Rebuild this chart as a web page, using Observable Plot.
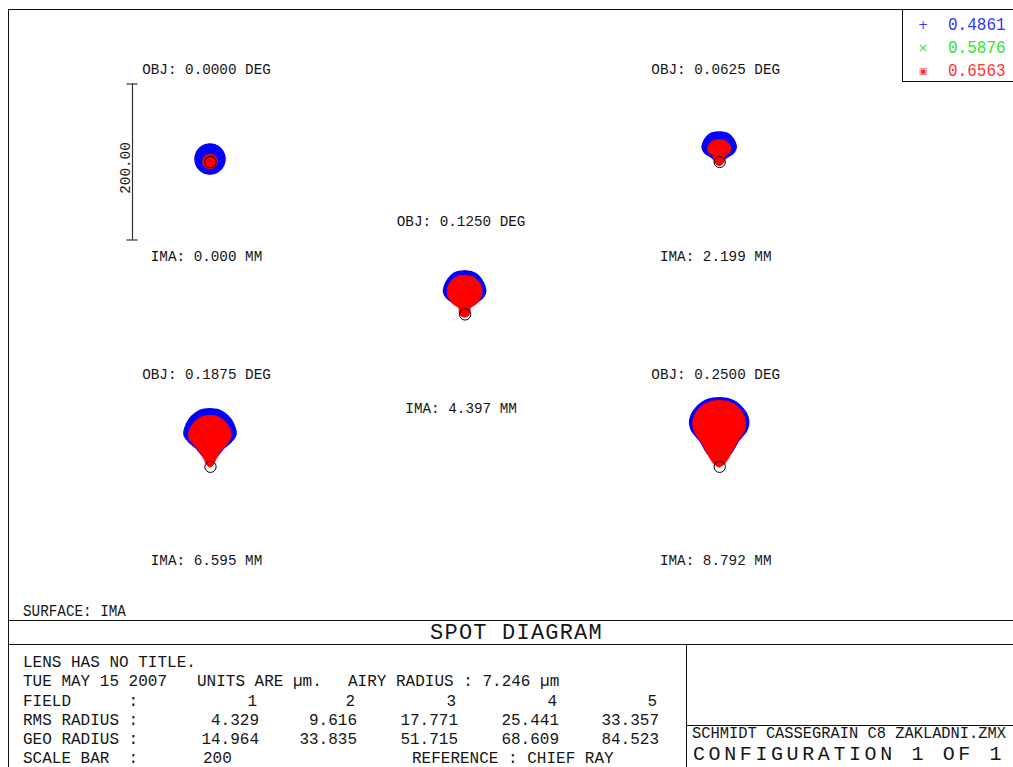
<!DOCTYPE html>
<html><head><meta charset="utf-8">
<script src="https://cdn.jsdelivr.net/npm/d3@7"></script>
<script src="https://cdn.jsdelivr.net/npm/@observablehq/plot@0.6"></script>
<style>
html,body{margin:0;padding:0;background:#fff;}
#page{position:relative;width:1013px;height:767px;overflow:hidden;font-family:"Liberation Mono","DejaVu Sans Mono",monospace;color:#161616;background:#fff;}
.t{position:absolute;white-space:pre;line-height:0.8;}
.ln{position:absolute;background:#111;}
</style></head><body><div id="page"></div>
<script>
// ---------------- data ----------------
const fieldNumbers = [1, 2, 3, 4, 5];
const objDeg = ["0.0000", "0.0625", "0.1250", "0.1875", "0.2500"];
const imaMM = ["0.000", "2.199", "4.397", "6.595", "8.792"];
const gridCol = [0, 2, 1, 0, 2];
const gridRow = [0, 0, 1, 2, 2];
const rmsRadius = ["4.329", "9.616", "17.771", "25.441", "33.357"];
const geoRadius = ["14.964", "33.835", "51.715", "68.609", "84.523"];
const wavelengths = ["0.4861", "0.5876", "0.6563"];
const airyRadius = 7.246;   // µm
const scaleBar = 200;       // µm
const lensTitle = "LENS HAS NO TITLE.";
const dateText = "TUE MAY 15 2007";
const lensFile = "SCHMIDT CASSEGRAIN C8 ZAKLADNI.ZMX";
const surfaceText = "SURFACE: IMA";

// spot envelopes:
// heights (µm above the chief ray) and half-widths (µm) of each spot outline
const blueProfileY = [
  [21.8, 21.0, 18.7, 14.8, 9.2, 3.2, -2.8, -8.4, -12.3, -14.6, -15.4],
  [37.2, 35.9, 32.1, 25.6, 17.9, 11.5, 6.4, 2.6, 1.3],
  [54.5, 53.2, 50.0, 43.6, 35.9, 28.2, 21.8, 15.4, 9.0, 6.4],
  [73.1, 71.8, 67.9, 61.5, 52.6, 41.0, 32.1, 23.1, 12.8, 9.0],
  [87.2, 85.9, 82.1, 75.6, 66.7, 56.4, 46.2, 33.3, 15.4, 10.3]
];
const blueProfileW = [
  [0, 5.4, 10.3, 14.5, 17.6, 18.6, 17.6, 14.5, 10.3, 5.4, 0],
  [0, 9.0, 14.7, 19.2, 21.2, 17.9, 10.3, 5.1, 0],
  [0, 9.0, 15.4, 21.2, 25.0, 26.3, 23.1, 15.4, 6.4, 0],
  [0, 10.3, 17.9, 25.0, 30.1, 32.7, 26.9, 16.7, 7.7, 0],
  [0, 11.5, 20.5, 28.2, 34.6, 37.2, 34.6, 24.4, 12.8, 0]
];
const redProfileY = [
  [9.4, 9.0, 7.7, 5.1, 2.6, 0, -2.6, -5.1, -7.7, -9.0, -9.4],
  [28.2, 26.9, 24.4, 20.5, 15.4, 11.5, 9.0, 7.1, 3.8, 0, -3.8, -5.8],
  [49.4, 48.1, 44.9, 38.5, 30.8, 23.1, 18.6, 12.2, 8.3, 5.1, 1.3, -2.6, -4.5],
  [65.4, 64.1, 60.3, 53.8, 46.2, 38.5, 32.1, 24.4, 18.0, 9.0, 1.3, -1.3],
  [84.6, 83.3, 79.5, 73.1, 64.1, 53.8, 43.6, 30.8, 14.1, 7.7, 2.6, -1.3]
];
const redProfileW = [
  [0, 2.8, 5.4, 7.9, 9.0, 9.4, 9.0, 7.9, 5.4, 2.8, 0],
  [0, 7.1, 10.9, 14.1, 14.7, 13.5, 10.3, 7.1, 7.1, 6.4, 3.8, 0],
  [0, 9.0, 14.7, 19.9, 22.4, 21.5, 19.2, 14.1, 7.7, 7.1, 6.7, 4.5, 0],
  [0, 9.0, 16.0, 22.4, 26.3, 27.6, 24.4, 18.2, 12.8, 7.7, 3.8, 0],
  [0, 10.3, 19.2, 26.9, 32.1, 34.0, 31.4, 23.1, 14.1, 10.3, 6.4, 0]
];

// ---------------- layout ----------------
const page = document.getElementById("page");
const k = 0.78;                 // px per µm (scale bar: 200 µm)
const W = 1013, H = 620;
const col0 = 210, row0 = 161.5; // px of first field cell
const colStep = 254.6 / k, rowStep = 152.4 / k;

const fields = fieldNumbers.map((f, i) => ({
  field: f, i, obj: objDeg[i], ima: imaMM[i],
  cx: gridCol[i] * colStep, cy: -gridRow[i] * rowStep
}));
const outline = (PY, PW) => fields.flatMap(d => PY[d.i].map((y, j) => ({
  field: d.field, y: d.cy + y, x1: d.cx - PW[d.i][j], x2: d.cx + PW[d.i][j]
})));
const BLUE = "#0000ff", RED = "#ff0000";
const barX = (132 - col0) / k;

const chart = Plot.plot({
  width: W, height: H, margin: 0,
  x: {domain: [-col0 / k, (W - col0) / k], axis: null},
  y: {domain: [-(H - row0) / k, row0 / k], axis: null},
  style: {fontFamily: '"Liberation Mono","DejaVu Sans Mono",monospace', fontSize: "14.3px", color: "#161616", background: "transparent", overflow: "visible"},
  marks: [
    // 0.4861 µm (blue) spots
    Plot.areaX(outline(blueProfileY, blueProfileW), {y: "y", x1: "x1", x2: "x2", z: "field", fill: BLUE, stroke: BLUE, strokeWidth: 2.6, strokeDasharray: "1 1.4", curve: "catmull-rom"}),
    // 0.6563 µm (red) spots on top
    Plot.areaX(outline(redProfileY, redProfileW), {y: "y", x1: "x1", x2: "x2", z: "field", fill: RED, stroke: RED, strokeWidth: 0.8, curve: "catmull-rom"}),
    // Airy disc at the chief ray
    Plot.dot(fields, {x: "cx", y: "cy", r: airyRadius * k, stroke: "#000", strokeWidth: 1, fill: "none"}),
    // field labels
    Plot.text(fields, {x: d => d.cx - 4 / k, y: d => d.cy + 92.5 / k, text: d => `OBJ: ${d.obj} DEG`, ariaLabel: "field labels"}),
    Plot.text(fields, {x: d => d.cx - 4 / k, y: d => d.cy - 94 / k, text: d => `IMA: ${d.ima} MM`, ariaLabel: "field labels"}),
    // scale bar
    Plot.ruleX([scaleBar], {x: barX, y1: d => -d / 2, y2: d => d / 2, stroke: "#333", strokeWidth: 1.2}),
    Plot.ruleY([-scaleBar / 2, scaleBar / 2], {y: d => d, x1: barX - 5.5 / k, x2: barX + 5.5 / k, stroke: "#333", strokeWidth: 1.2}),
    Plot.text([scaleBar], {x: barX - 7.5 / k, y: -6 / k, text: d => d.toFixed(2), rotate: -90, ariaLabel: "field labels"})
  ]
});
chart.style.position = "absolute";
chart.style.left = "0px";
chart.style.top = "0px";
// taller, Zemax-like glyphs
chart.querySelectorAll('g[aria-label="field labels"] text').forEach(t => {
  const x = t.getAttribute("x"), y = t.getAttribute("y");
  let tr = t.getAttribute("transform") || "";
  if (x != null || y != null) {
    t.removeAttribute("x"); t.removeAttribute("y");
    tr = `translate(${x || 0},${y || 0}) ` + tr;
  }
  t.setAttribute("transform", tr + " scale(1,1.18)");
});
page.appendChild(chart);

// ---------------- frame & text panel ----------------
function line(x, y, w, h) {
  const d = document.createElement("div");
  d.className = "ln";
  Object.assign(d.style, {left: x + "px", top: y + "px", width: w + "px", height: h + "px"});
  page.appendChild(d);
}
const BASE = 0.6665; // baseline position within a 0.8em line box
function put(str, x, base, size, o = {}) {
  const sy = o.sy || 1.05, anchor = o.anchor || "start";
  const d = document.createElement("div");
  d.className = "t";
  d.textContent = str;
  d.style.fontSize = size + "px";
  d.style.top = (base - BASE * size) + "px";
  d.style.left = x + "px";
  if (o.color) d.style.color = o.color;
  if (o.spacing) d.style.letterSpacing = o.spacing + "px";
  if (o.family) d.style.fontFamily = o.family;
  const tx = anchor === "end" ? "translateX(-100%) " : anchor === "middle" ? "translateX(-50%) " : "";
  d.style.transformOrigin = `0 ${BASE * size}px`;
  d.style.transform = tx + `scaleY(${sy})`;
  page.appendChild(d);
}

line(8, 9, 1010, 1);
line(8, 9, 1, 758);
line(8, 620, 1010, 1);
line(8, 644, 1010, 1);
line(686, 644, 1, 123);
line(686, 725, 330, 1);
line(902, 9, 1, 72);
line(902, 81, 115, 1);

// legend
const legColors = ["#3333ff", "#2ee82e", "#ff3333"];
const legSym = ["+", "×", "▣"];
const legY = [24.7, 47.8, 70.2];
wavelengths.forEach((w, i) => {
  put(legSym[i], 923, legY[i] + 4, i === 2 ? 9 : 12, {anchor: "middle", sy: 1, color: legColors[i], family: '"DejaVu Sans",sans-serif'});
  put(w, 948, legY[i] + 6, 16, {sy: 1.15, color: legColors[i]});
});

put(surfaceText, 23, 616.5, 14.3, {sy: 1.17});
put("SPOT DIAGRAM", 516.5, 640, 22, {anchor: "middle", spacing: 1.2, sy: 1.04});
put(lensFile, 692, 738.5, 15.4, {sy: 1.04});
put("CONFIGURATION 1 OF 1", 693, 760.5, 20, {spacing: 3.6, sy: 1.05});

const B = [668, 687.1, 706.2, 725.3, 744.4, 763.5];
const fs = 16;
const colRight = [259, 357, 458, 559, 659];
put(lensTitle, 23, B[0], fs);
put(dateText, 23, B[1], fs);
put("UNITS ARE µm.", 197, B[1], fs);
put(`AIRY RADIUS : ${airyRadius.toFixed(3)} µm`, 348, B[1], fs);
put("FIELD      :", 23, B[2], fs);
put("RMS RADIUS :", 23, B[3], fs);
put("GEO RADIUS :", 23, B[4], fs);
put("SCALE BAR  :", 23, B[5], fs);
fieldNumbers.forEach((f, i) => {
  put(String(f), colRight[i] - 2, B[2], fs, {anchor: "end"});
  put(rmsRadius[i], colRight[i], B[3], fs, {anchor: "end"});
  put(geoRadius[i], colRight[i], B[4], fs, {anchor: "end"});
});
put(String(scaleBar), 203, B[5], fs);
put("REFERENCE : CHIEF RAY", 412, B[5], fs);
</script>
</body></html>
